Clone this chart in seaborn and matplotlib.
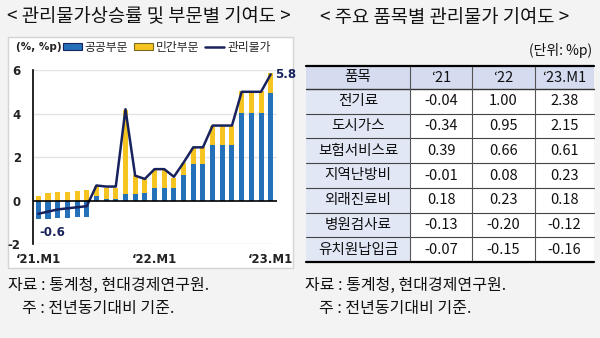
import numpy as np
import pandas as pd
import matplotlib
matplotlib.use("Agg")
import matplotlib.pyplot as plt
from matplotlib.patches import Rectangle, Patch
from matplotlib.lines import Line2D
import seaborn as sns

sns.set_theme(style="white")
plt.rcParams["font.family"] = ["Noto Sans CJK KR", "DejaVu Sans"]

# ---- monthly data: Jan 2021 .. Jan 2023 ----
months = [f"{y}.M{m}" for y in (21, 22) for m in range(1, 13)] + ["23.M1"]
public = [-0.86, -0.86, -0.78, -0.78, -0.74, -0.74, 0.22, 0.10, 0.10, 0.29, 0.29, 0.34,
          0.57, 0.57, 0.57, 1.18, 1.68, 1.68, 2.55, 2.58, 2.55, 4.03, 4.03, 4.03, 4.95]
private = [0.22, 0.34, 0.40, 0.40, 0.46, 0.49, 0.46, 0.50, 0.50, 3.89, 0.88, 0.64,
           0.85, 0.85, 0.49, 0.54, 0.74, 0.78, 0.87, 0.84, 0.87, 1.00, 1.00, 1.00, 0.90]
total = [-0.6, -0.5, -0.4, -0.35, -0.3, -0.25, 0.7, 0.65, 0.65, 4.2, 1.15, 1.0,
         1.45, 1.45, 1.1, 1.75, 2.45, 2.45, 3.45, 3.45, 3.45, 5.0, 5.0, 5.0, 5.8]
xtick_labels = ["\u201821.M1", "\u201822.M1", "\u201823.M1"]
legend_labels = ["공공부문", "민간부문", "관리물가"]

# ---- table data ----
items = ["전기료", "도시가스", "보험서비스료", "지역난방비", "외래진료비", "병원검사료", "유치원납입금"]
col_heads = ["품목", "\u201821", "\u201822", "\u201823.M1"]
v21 = [-0.04, -0.34, 0.39, -0.01, 0.18, -0.13, -0.07]
v22 = [1.00, 0.95, 0.66, 0.08, 0.23, -0.20, -0.15]
v23 = [2.38, 2.15, 0.61, 0.23, 0.18, -0.12, -0.16]

BLUE = "#2470b9"
YELLOW = "#f6c420"
NAVY = "#18225c"
BG = "#f3f3f3"

W, H = 600, 338
fig = plt.figure(figsize=(W / 100, H / 100), dpi=100)
fig.patch.set_facecolor(BG)

# overlay axes in pixel space for frames, text and table
ov = fig.add_axes([0, 0, 1, 1], zorder=0)
ov.set_xlim(0, W)
ov.set_ylim(H, 0)
ov.axis("off")
ov.patch.set_alpha(0)

# chart panel box
ov.add_patch(Rectangle((8, 37), 285, 231, facecolor="white", edgecolor="#d4d4d4", lw=1))

ov.text(149, 17, "< 관리물가상승률 및 부문별 기여도 >", ha="center", va="center", fontsize=13.5, color="#111")
ov.text(445, 17, "< 주요 품목별 관리물가 기여도 >", ha="center", va="center", fontsize=13.5, color="#111")

for x0 in (8, 305):
    ov.text(x0, 285, "자료 : 통계청, 현대경제연구원.", ha="left", va="center", fontsize=11.5, color="#111")
    ov.text(x0 + 14, 308, "주 : 전년동기대비 기준.", ha="left", va="center", fontsize=11.5, color="#111")

# ---- chart ----
ax = fig.add_axes([33.3 / W, 1 - 244.3 / H, (277 - 33.3) / W, (244.3 - 70) / H], zorder=2)
ax.patch.set_alpha(0)

df = pd.DataFrame({"month": months, "public": public, "private": private, "total": total})
df["pos"] = np.arange(len(df))
df["private_top"] = df["public"].clip(lower=0) + df["private"]

bar_kw = dict(order=months, width=0.52, saturation=1, linewidth=0, edgecolor="none", ax=ax)
sns.barplot(data=df, x="month", y="private_top", color=YELLOW, zorder=2, **bar_kw)
sns.barplot(data=df, x="month", y="public", color=BLUE, zorder=3, **bar_kw)
sns.lineplot(data=df, x="pos", y="total", color=NAVY, lw=1.8, ax=ax, zorder=4)

ax.set_xlim(-0.52, 24.65)
ax.set_ylim(-2, 6)
ax.set_yticks([-2, 0, 2, 4, 6])
ax.set_yticklabels(["-2", "0", "2", "4", "6"], fontsize=8.5, fontweight="bold", color="#222",
                   family=["DejaVu Sans"])
ax.set_xticks([0, 12, 24])
ax.set_xticklabels(xtick_labels, fontsize=8.5, fontweight="bold", color="#222", family=["DejaVu Sans"])
ax.tick_params(axis="y", length=0, pad=9)
ax.tick_params(axis="x", length=0, pad=6)
ax.set_xlabel("")
ax.set_ylabel("")
for s in ("top", "right", "bottom"):
    ax.spines[s].set_visible(False)
ax.spines["left"].set_color("black")
ax.spines["left"].set_linewidth(1.2)
for yv in (-2, 2, 4, 6):
    ax.axhline(yv, color="#e3e3e3", lw=1, zorder=0)
ax.axhline(0, color="black", lw=1.2, zorder=5)

ax.text(0 + 0.1, total[0] - 0.55, f"{total[0]:.1f}", ha="left", va="top", fontsize=8.5,
        fontweight="bold", color=NAVY, family=["DejaVu Sans"])
ax.text(24 + 0.5, total[-1], f"{total[-1]:.1f}", ha="left", va="center", fontsize=8.5,
        fontweight="bold", color=NAVY, family=["DejaVu Sans"])

# legend row
ov.text(16, 47, "(%, %p)", ha="left", va="center", fontsize=7.5, fontweight="bold", color="#222",
        family=["DejaVu Sans"])
handles = [Patch(facecolor=BLUE, edgecolor=NAVY, lw=0.8),
           Patch(facecolor=YELLOW, edgecolor="#7a6a20", lw=0.8),
           Line2D([0], [0], color=NAVY, lw=1.8)]
fig.legend(handles, legend_labels, ncol=3, frameon=False, fontsize=8.5,
           loc="center left", bbox_to_anchor=(63 / W, 1 - 47 / H),
           handlelength=1.6, handleheight=0.5, handletextpad=0.25, columnspacing=0.5,
           borderaxespad=0, borderpad=0)

# ---- table ----
col_edges = [306, 410, 472, 535, 594]
top, head_bot, bottom = 66, 89, 262
row_h = (bottom - head_bot) / len(items)
HEAD_BG = "#d5dcf0"
FIRST_BG = "#e2e7f6"

ov.text(592, 50, "(단위: %p)", ha="right", va="center", fontsize=10, color="#111")
ov.add_patch(Rectangle((col_edges[0], top), col_edges[-1] - col_edges[0], bottom - top,
                       facecolor="white", edgecolor="none"))
ov.add_patch(Rectangle((col_edges[0], top), col_edges[-1] - col_edges[0], head_bot - top,
                       facecolor=HEAD_BG, edgecolor="none"))
ov.add_patch(Rectangle((col_edges[0], head_bot), col_edges[1] - col_edges[0], bottom - head_bot,
                       facecolor=FIRST_BG, edgecolor="none"))

for j, h in enumerate(col_heads):
    cx = (col_edges[j] + col_edges[j + 1]) / 2
    ov.text(cx, (top + head_bot) / 2, h, ha="center", va="center", fontsize=10.5, color="#111")

for i, name in enumerate(items):
    cy = head_bot + row_h * (i + 0.5)
    vals = [name, f"{v21[i]:.2f}", f"{v22[i]:.2f}", f"{v23[i]:.2f}"]
    for j, t in enumerate(vals):
        cx = (col_edges[j] + col_edges[j + 1]) / 2
        ov.text(cx, cy, t, ha="center", va="center", fontsize=10.5, color="#111")

# grid lines
for i in range(1, len(items)):
    yl = head_bot + row_h * i
    ov.plot([col_edges[0], col_edges[-1]], [yl, yl], color="#444", lw=0.8)
ov.plot([col_edges[0], col_edges[-1]], [head_bot, head_bot], color="#333", lw=1.0)
for xe in col_edges[1:-1]:
    ov.plot([xe, xe], [top, bottom], color="#555", lw=0.8)
ov.plot([col_edges[0], col_edges[-1]], [top, top], color="black", lw=1.6)
ov.plot([col_edges[0], col_edges[-1]], [bottom, bottom], color="black", lw=1.6)

fig.savefig("out.png", dpi=100, facecolor=BG)
